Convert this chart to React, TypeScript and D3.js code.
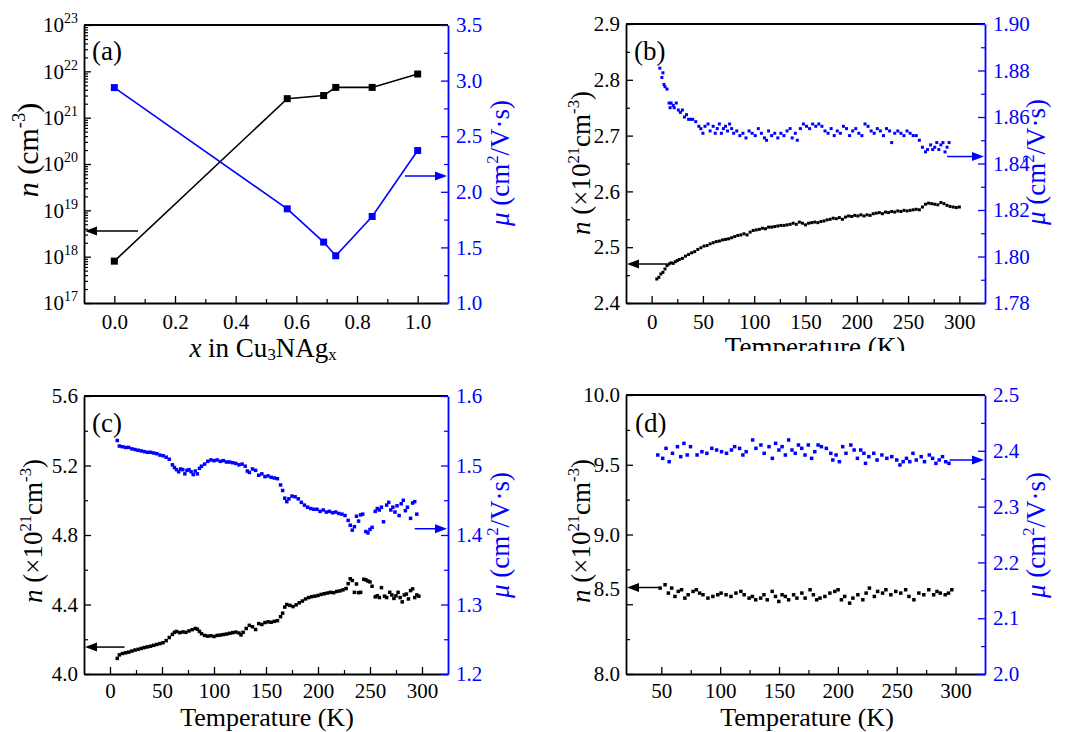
import React, { useRef, useEffect } from 'react';
import * as d3 from 'd3';

const BLUE = '#0000ff';
const FONT = '"Liberation Serif", "Times New Roman", serif';

// (a) composition dependence
const compX = [0, 0.57, 0.69, 0.73, 0.85, 1.0];
const compN = [8.0e17, 2.57e21, 3.0e21, 4.5e21, 4.5e21, 8.75e21];
const compMu = [2.937, 1.847, 1.548, 1.425, 1.778, 2.371];

// (b) temperature, carrier density (x1e21) and mobility
const bN: [number, number][] = [[5,2.443],[7,2.446],[9,2.452],[11,2.455],[13,2.461],[15,2.467],[17,2.470],[19,2.472],[21,2.471],[23,2.474],[25,2.476],[27,2.478],[30,2.480],[33,2.484],[36,2.487],[39,2.490],[42,2.492],[45,2.496],[48,2.499],[51,2.502],[54,2.503],[57,2.506],[60,2.508],[63,2.510],[66,2.511],[69,2.513],[72,2.514],[75,2.515],[78,2.517],[81,2.519],[84,2.521],[87,2.522],[90,2.524],[93,2.522],[96,2.527],[99,2.530],[102,2.531],[105,2.532],[108,2.534],[111,2.533],[114,2.536],[117,2.536],[120,2.537],[123,2.538],[126,2.539],[129,2.539],[132,2.540],[135,2.541],[138,2.543],[141,2.541],[144,2.545],[147,2.543],[150,2.540],[153,2.543],[156,2.544],[159,2.545],[162,2.544],[165,2.546],[168,2.547],[171,2.549],[174,2.550],[177,2.552],[180,2.551],[183,2.553],[186,2.550],[189,2.554],[192,2.556],[195,2.555],[198,2.557],[201,2.556],[204,2.558],[207,2.556],[210,2.558],[213,2.557],[216,2.560],[219,2.561],[222,2.562],[225,2.560],[228,2.563],[231,2.562],[234,2.564],[237,2.563],[240,2.565],[243,2.564],[246,2.566],[249,2.565],[252,2.566],[255,2.567],[258,2.568],[261,2.567],[264,2.572],[267,2.577],[270,2.579],[273,2.578],[276,2.577],[279,2.576],[282,2.580],[285,2.578],[288,2.575],[291,2.573],[294,2.572],[297,2.571],[300,2.572]];
const bMu: [number, number][] = [[8,1.881],[10,1.877],[11,1.879],[12,1.874],[13,1.873],[15,1.872],[17,1.866],[18,1.864],[19,1.866],[21,1.865],[22,1.864],[24,1.866],[26,1.863],[28,1.862],[30,1.863],[32,1.860],[34,1.861],[36,1.859],[38,1.859],[40,1.859],[43,1.858],[46,1.856],[48,1.855],[50,1.853],[52,1.856],[55,1.857],[57,1.854],[60,1.856],[62,1.853],[64,1.855],[66,1.857],[68,1.853],[70,1.855],[72,1.856],[74,1.854],[76,1.857],[78,1.855],[80,1.853],[83,1.854],[86,1.852],[89,1.853],[92,1.851],[95,1.854],[98,1.853],[101,1.852],[104,1.855],[107,1.853],[110,1.851],[112,1.850],[114,1.854],[117,1.852],[120,1.853],[123,1.851],[126,1.853],[129,1.852],[132,1.854],[135,1.855],[137,1.851],[140,1.853],[142,1.850],[145,1.855],[148,1.857],[151,1.856],[154,1.855],[157,1.857],[160,1.856],[163,1.857],[166,1.856],[169,1.854],[172,1.853],[175,1.855],[178,1.852],[181,1.854],[184,1.853],[187,1.856],[190,1.855],[193,1.852],[196,1.854],[199,1.855],[202,1.853],[205,1.852],[208,1.857],[211,1.856],[214,1.854],[217,1.853],[220,1.855],[223,1.854],[226,1.852],[229,1.855],[232,1.854],[234,1.849],[237,1.853],[240,1.854],[243,1.853],[246,1.852],[249,1.854],[252,1.853],[255,1.852],[258,1.852],[261,1.850],[264,1.847],[267,1.845],[269,1.846],[272,1.848],[274,1.846],[276,1.847],[278,1.849],[280,1.846],[282,1.848],[284,1.849],[286,1.845],[288,1.847],[290,1.849]];

// (c)
const cN: [number, number][] = [[7,4.090],[9,4.110],[12,4.118],[15,4.122],[18,4.126],[21,4.132],[24,4.138],[27,4.142],[30,4.147],[33,4.152],[36,4.156],[39,4.160],[42,4.165],[45,4.170],[48,4.175],[51,4.180],[54,4.192],[57,4.210],[60,4.228],[62,4.240],[64,4.245],[67,4.238],[70,4.242],[73,4.240],[76,4.248],[79,4.255],[82,4.262],[84,4.258],[86,4.245],[88,4.232],[91,4.222],[94,4.218],[97,4.220],[100,4.216],[103,4.222],[106,4.224],[109,4.227],[112,4.230],[115,4.234],[118,4.238],[121,4.241],[124,4.236],[126,4.225],[128,4.240],[131,4.262],[134,4.280],[137,4.272],[140,4.256],[143,4.290],[146,4.285],[149,4.296],[152,4.300],[155,4.298],[158,4.303],[161,4.307],[164,4.330],[166,4.350],[168,4.385],[170,4.400],[173,4.395],[176,4.388],[179,4.398],[182,4.410],[185,4.420],[188,4.432],[191,4.440],[194,4.445],[197,4.448],[200,4.452],[203,4.458],[206,4.462],[209,4.466],[212,4.470],[215,4.468],[218,4.475],[221,4.478],[224,4.484],[227,4.492],[229,4.520],[231,4.548],[233,4.538],[235,4.470],[237,4.518],[239,4.468],[241,4.470],[244,4.545],[246,4.542],[248,4.535],[250,4.530],[252,4.505],[255,4.444],[257,4.450],[259,4.440],[261,4.497],[264,4.448],[266,4.440],[269,4.470],[271,4.455],[273,4.435],[275,4.450],[277,4.470],[279,4.440],[281,4.415],[283,4.455],[285,4.460],[287,4.432],[289,4.480],[291,4.490],[293,4.440],[295,4.455],[297,4.448]];
const cMu: [number, number][] = [[7,1.536],[9,1.528],[12,1.527],[15,1.526],[18,1.526],[21,1.524],[24,1.523],[27,1.522],[30,1.521],[33,1.520],[36,1.519],[39,1.519],[42,1.518],[45,1.517],[48,1.515],[51,1.514],[54,1.512],[57,1.509],[60,1.501],[62,1.497],[64,1.494],[66,1.491],[68,1.495],[70,1.494],[72,1.488],[74,1.493],[76,1.494],[78,1.491],[80,1.487],[82,1.492],[84,1.488],[86,1.496],[88,1.499],[91,1.502],[94,1.506],[97,1.508],[100,1.507],[103,1.508],[106,1.506],[109,1.507],[112,1.505],[115,1.505],[118,1.504],[121,1.503],[124,1.501],[127,1.502],[130,1.499],[132,1.492],[134,1.490],[137,1.495],[140,1.493],[143,1.486],[146,1.488],[149,1.484],[152,1.485],[155,1.483],[158,1.482],[161,1.481],[164,1.472],[166,1.464],[168,1.453],[170,1.448],[172,1.452],[175,1.456],[178,1.455],[181,1.452],[184,1.447],[187,1.443],[190,1.440],[193,1.438],[196,1.437],[199,1.437],[202,1.434],[205,1.436],[208,1.433],[211,1.434],[214,1.432],[217,1.433],[220,1.431],[223,1.430],[226,1.428],[229,1.421],[231,1.414],[233,1.407],[235,1.412],[237,1.427],[239,1.420],[241,1.429],[243,1.430],[246,1.405],[248,1.403],[250,1.408],[252,1.411],[255,1.434],[257,1.438],[259,1.436],[261,1.440],[263,1.419],[266,1.443],[268,1.447],[270,1.436],[272,1.440],[274,1.433],[276,1.442],[278,1.428],[280,1.445],[282,1.450],[284,1.435],[286,1.440],[289,1.424],[291,1.446],[293,1.448],[295,1.430]];

// (d)
const dN: [number, number][] = [[49.0,8.616],[53.2,8.640],[56.0,8.580],[58.8,8.616],[61.6,8.556],[64.4,8.592],[67.2,8.604],[70.0,8.544],[72.8,8.568],[77.0,8.592],[79.8,8.604],[82.6,8.580],[85.4,8.568],[89.6,8.544],[93.8,8.556],[98.0,8.568],[100.8,8.580],[105.0,8.568],[109.2,8.556],[113.4,8.580],[117.6,8.592],[120.4,8.568],[124.6,8.544],[127.4,8.556],[130.2,8.532],[134.4,8.544],[137.2,8.568],[140.0,8.532],[144.2,8.592],[147.0,8.556],[149.8,8.520],[152.6,8.568],[155.4,8.556],[158.2,8.532],[162.4,8.568],[165.2,8.544],[169.4,8.580],[172.2,8.544],[176.4,8.604],[179.2,8.568],[182.0,8.532],[184.8,8.544],[189.0,8.556],[193.2,8.580],[197.4,8.592],[200.2,8.604],[203.0,8.532],[205.8,8.556],[210.0,8.508],[212.8,8.544],[217.0,8.568],[221.2,8.532],[224.0,8.580],[226.8,8.616],[231.0,8.556],[233.8,8.592],[238.0,8.580],[240.8,8.604],[245.0,8.568],[249.2,8.592],[253.4,8.580],[257.6,8.604],[260.4,8.556],[264.6,8.532],[268.8,8.580],[273.0,8.568],[277.2,8.604],[281.4,8.568],[284.2,8.592],[287.0,8.580],[291.2,8.568],[294.0,8.580],[296.8,8.604]];
const dMu: [number, number][] = [[47.0,2.3925],[51.2,2.3865],[54.0,2.4044],[56.7,2.3805],[59.5,2.3955],[63.7,2.4074],[66.5,2.3895],[69.2,2.4134],[72.0,2.3925],[74.8,2.4074],[80.4,2.3925],[84.5,2.3984],[88.7,2.3955],[92.9,2.4044],[97.0,2.4014],[101.2,2.3984],[105.4,2.3955],[109.6,2.4014],[112.3,2.4074],[116.5,2.4044],[119.3,2.3925],[122.1,2.3984],[127.6,2.4194],[130.4,2.4044],[134.6,2.4104],[137.4,2.3955],[141.5,2.4074],[144.3,2.3865],[147.1,2.4134],[149.9,2.4014],[152.6,2.4074],[155.4,2.3925],[158.2,2.4194],[161.0,2.4014],[163.8,2.3955],[166.5,2.4104],[169.3,2.4044],[172.1,2.3925],[174.9,2.4104],[177.7,2.3865],[180.4,2.3984],[183.2,2.4104],[186.0,2.4074],[190.2,2.4044],[194.0,2.3955],[195.7,2.3835],[198.5,2.3925],[201.3,2.3805],[204.1,2.4074],[206.9,2.3955],[211.0,2.4104],[213.8,2.4014],[216.6,2.3865],[219.4,2.4014],[222.1,2.3955],[223.5,2.3775],[226.3,2.3895],[230.5,2.3955],[233.3,2.3835],[237.4,2.3925],[241.6,2.3865],[245.8,2.3895],[250.0,2.3835],[252.7,2.3746],[255.5,2.3805],[258.3,2.3865],[261.1,2.3805],[263.8,2.3955],[266.6,2.3835],[270.8,2.3895],[273.6,2.3805],[277.7,2.3925],[280.5,2.3865],[283.3,2.3775],[286.1,2.3835],[288.9,2.3895],[291.6,2.3805],[294.4,2.3775]];

// tick values
const aXTicks = [0, 0.2, 0.4, 0.6, 0.8, 1.0];
const aXMinor = [0.1, 0.3, 0.5, 0.7, 0.9];
const aNTicks = [1e17, 1e18, 1e19, 1e20, 1e21, 1e22, 1e23];
const aMuTicks = [1.0, 1.5, 2.0, 2.5, 3.0, 3.5];
const aMuMinor = [1.25, 1.75, 2.25, 2.75, 3.25];
const tempTicks = [0, 50, 100, 150, 200, 250, 300];
const tempMinor = [25, 75, 125, 175, 225, 275];
const dTempTicks = [50, 100, 150, 200, 250, 300];
const dTempMinor = [75, 125, 175, 225, 275];
const bNTicks = [2.4, 2.5, 2.6, 2.7, 2.8, 2.9];
const bNMinor = [2.45, 2.55, 2.65, 2.75, 2.85];
const bMuTicks = [1.78, 1.80, 1.82, 1.84, 1.86, 1.88, 1.90];
const bMuMinor = [1.79, 1.81, 1.83, 1.85, 1.87, 1.89];
const cNTicks = [4.0, 4.4, 4.8, 5.2, 5.6];
const cNMinor = [4.2, 4.6, 5.0, 5.4];
const cMuTicks = [1.2, 1.3, 1.4, 1.5, 1.6];
const cMuMinor = [1.25, 1.35, 1.45, 1.55];
const dNTicks = [8.0, 8.5, 9.0, 9.5, 10.0];
const dNMinor = [8.25, 8.75, 9.25, 9.75];
const dMuTicks = [2.0, 2.1, 2.2, 2.3, 2.4, 2.5];
const dMuMinor = [2.05, 2.15, 2.25, 2.35, 2.45];

type Part = { t: string; it?: boolean; sup?: boolean; sub?: boolean };
const nTitleA: Part[] = [{ t: 'n', it: true }, { t: ' (cm' }, { t: '-3', sup: true }, { t: ')' }];
const nTitle: Part[] = [{ t: 'n', it: true }, { t: ' (×10' }, { t: '21', sup: true }, { t: 'cm' }, { t: '-3', sup: true }, { t: ')' }];
const muTitle: Part[] = [{ t: 'μ', it: true }, { t: ' (cm' }, { t: '2', sup: true }, { t: '/V·s)' }];
const compTitle: Part[] = [{ t: 'x', it: true }, { t: ' in Cu' }, { t: '3', sub: true }, { t: 'NAg' }, { t: 'x', sub: true }];
const tempTitle: Part[] = [{ t: 'Temperature (K)' }];

function rich(sel: any, parts: Part[], size: number) {
  let shift = 0;
  parts.forEach(p => {
    const target = p.sup ? -0.42 * size : p.sub ? 0.1 * size : 0;
    const ts = sel.append('tspan').attr('dy', target - shift).text(p.t);
    shift = target;
    if (p.it) ts.attr('font-style', 'italic');
    if (p.sup || p.sub) ts.attr('font-size', size * 0.62);
  });
}

const panels = [
  {
    tag: '(a)', frame: { x0: 84, x1: 448, y0: 25, y1: 303 }, xDomain: [-0.1, 1.1], xTicks: aXTicks, xMinor: aXMinor, xFmt: d3.format('.1f'),
    log: true, lDomain: [1e17, 1e23], lTicks: aNTicks, lMinor: d3.range(17, 23).flatMap(e => d3.range(2, 10).map(k => k * 10 ** e)), lFmt: null,
    rDomain: [1.0, 3.5], rTicks: aMuTicks, rMinor: aMuMinor, rFmt: d3.format('.1f'),
    left: compX.map((x, i) => [x, compN[i]]), right: compX.map((x, i) => [x, compMu[i]]), lines: true, ms: 7,
    arrowL: [3.6e18, 0.078], arrowR: [2.142, 0.958],
    lTitle: nTitleA, lTitleSize: 30, lTitlePos: [38, 150], rTitlePos: [509, 163],
    xTitle: compTitle, xTitleSize: 27, xTitlePos: [263, 357], tagPos: [92, 60], xPad: 11,
  },
  {
    tag: '(b)', frame: { x0: 626, x1: 985, y0: 24, y1: 303 }, xDomain: [-25, 325], xTicks: tempTicks, xMinor: tempMinor, xFmt: d3.format('d'),
    log: false, lDomain: [2.4, 2.9], lTicks: bNTicks, lMinor: bNMinor, lFmt: d3.format('.1f'),
    rDomain: [1.78, 1.90], rTicks: bMuTicks, rMinor: bMuMinor, rFmt: d3.format('.2f'),
    left: bN, right: bMu, lines: false, ms: 3,
    arrowL: [2.47, 15], arrowR: [1.843, 288],
    lTitle: nTitle, lTitleSize: 27, lTitlePos: [590, 163], rTitlePos: [1045, 162],
    xTitle: tempTitle, xTitleSize: 27, xTitlePos: [815, 356], tagPos: [634, 60], clipY: 351, xPad: 11,
  },
  {
    tag: '(c)', frame: { x0: 84, x1: 448, y0: 396, y1: 674 }, xDomain: [-25, 325], xTicks: tempTicks, xMinor: tempMinor, xFmt: d3.format('d'),
    log: false, lDomain: [4.0, 5.6], lTicks: cNTicks, lMinor: cNMinor, lFmt: d3.format('.1f'),
    rDomain: [1.2, 1.6], rTicks: cMuTicks, rMinor: cMuMinor, rFmt: d3.format('.1f'),
    left: cN, right: cMu, lines: false, ms: 3.5,
    arrowL: [4.155, 14], arrowR: [1.409, 293],
    lTitle: nTitle, lTitleSize: 27, lTitlePos: [42, 531], rTitlePos: [509, 535],
    xTitle: tempTitle, xTitleSize: 26, xTitlePos: [267, 726], tagPos: [92, 432], xPad: 9,
  },
  {
    tag: '(d)', frame: { x0: 626, x1: 985, y0: 395, y1: 674 }, xDomain: [20, 325], xTicks: dTempTicks, xMinor: dTempMinor, xFmt: d3.format('d'),
    log: false, lDomain: [8.0, 10.0], lTicks: dNTicks, lMinor: dNMinor, lFmt: d3.format('.1f'),
    rDomain: [2.0, 2.5], rTicks: dMuTicks, rMinor: dMuMinor, rFmt: d3.format('.1f'),
    left: dN, right: dMu, lines: false, ms: 3.5,
    arrowL: [8.62, 48], arrowR: [2.3835, 295],
    lTitle: nTitle, lTitleSize: 27, lTitlePos: [590, 531], rTitlePos: [1045, 535],
    xTitle: tempTitle, xTitleSize: 26, xTitlePos: [807, 726], tagPos: [635, 432], nudge85: true, xPad: 9,
  },
];

function drawPanel(svg: any, p: any, idx: number) {
  const { x0, x1, y0, y1 } = p.frame;
  const x = d3.scaleLinear().domain(p.xDomain).range([x0, x1]);
  const yL: any = p.log ? d3.scaleLog().domain(p.lDomain).range([y1, y0]) : d3.scaleLinear().domain(p.lDomain).range([y1, y0]);
  const yR = d3.scaleLinear().domain(p.rDomain).range([y1, y0]);
  const g = svg.append('g');

  const style = (sel: any, color: string) => {
    sel.attr('font-family', FONT).attr('font-size', 21).attr('color', color);
    sel.selectAll('text').attr('font-family', FONT).style('font-family', FONT).attr('font-size', 21);
    sel.selectAll('.domain').attr('stroke-width', 1.8);
    sel.selectAll('.tick line').attr('stroke-width', 1.3);
  };
  const minor = (axis: any, vals: number[], tr: string, color: string) => {
    g.append('g').attr('transform', tr).attr('color', color)
      .call(axis.tickValues(vals).tickSize(-4).tickFormat(() => ''))
      .call((s: any) => s.select('.domain').remove())
      .selectAll('.tick line').attr('stroke-width', 1.2);
  };

  // minor ticks
  minor(d3.axisBottom(x), p.xMinor, `translate(0,${y1})`, '#000');
  minor(d3.axisLeft(yL), p.lMinor, `translate(${x0},0)`, '#000');
  minor(d3.axisRight(yR), p.rMinor, `translate(${x1},0)`, BLUE);

  // top border
  g.append('line').attr('x1', x0).attr('x2', x1).attr('y1', y0).attr('y2', y0).attr('stroke', '#000').attr('stroke-width', 1.8);

  const xa = g.append('g').attr('transform', `translate(0,${y1})`)
    .call(d3.axisBottom(x).tickValues(p.xTicks).tickSizeInner(-7).tickSizeOuter(0).tickPadding(p.xPad).tickFormat(p.xFmt));
  style(xa, '#000');

  const la = g.append('g').attr('transform', `translate(${x0},0)`)
    .call(d3.axisLeft(yL).tickValues(p.lTicks).tickSizeInner(-7).tickSizeOuter(0).tickPadding(6).tickFormat(p.lFmt || (() => '')));
  style(la, '#000');
  if (p.log) {
    la.selectAll('.tick text').each(function (this: any, d: any) {
      const t = d3.select(this);
      t.text('');
      t.append('tspan').text('10');
      t.append('tspan').attr('dy', -9).attr('font-size', 14).text(String(Math.round(Math.log10(d))));
    });
  }
  if (p.nudge85) {
    la.selectAll('.tick').filter((d: any) => Math.abs(d - 8.5) < 1e-6).select('text').attr('y', -15);
  }

  const ra = g.append('g').attr('transform', `translate(${x1},0)`)
    .call(d3.axisRight(yR).tickValues(p.rTicks).tickSizeInner(-7).tickSizeOuter(0).tickPadding(8).tickFormat(p.rFmt));
  style(ra, BLUE);

  // data
  const drawSeries = (pts: any[], y: any, color: string) => {
    if (p.lines) {
      g.append('path').datum(pts).attr('fill', 'none').attr('stroke', color).attr('stroke-width', 1.6)
        .attr('d', d3.line().x((d: any) => x(d[0])).y((d: any) => y(d[1])));
    }
    g.append('g').selectAll('rect').data(pts).join('rect')
      .attr('x', (d: any) => x(d[0]) - p.ms / 2).attr('y', (d: any) => y(d[1]) - p.ms / 2)
      .attr('width', p.ms).attr('height', p.ms).attr('fill', color);
  };
  drawSeries(p.left, yL, '#000');
  drawSeries(p.right, yR, BLUE);

  // arrows
  const arrow = (xs: number, xe: number, yy: number, color: string) => {
    const dir = Math.sign(xe - xs);
    g.append('line').attr('x1', xs).attr('x2', xe - dir * 8).attr('y1', yy).attr('y2', yy).attr('stroke', color).attr('stroke-width', 1.5);
    g.append('path').attr('d', `M${xe},${yy}L${xe - dir * 12},${yy - 4.5}L${xe - dir * 12},${yy + 4.5}Z`).attr('fill', color);
  };
  arrow(x(p.arrowL[1]), x0 + 1, yL(p.arrowL[0]), '#000');
  arrow(x(p.arrowR[1]), x1 - 1, yR(p.arrowR[0]), BLUE);

  // titles
  const lt = g.append('text').attr('transform', `translate(${p.lTitlePos[0]},${p.lTitlePos[1]}) rotate(-90)`)
    .attr('text-anchor', 'middle').attr('font-family', FONT).attr('font-size', p.lTitleSize).attr('fill', '#000');
  rich(lt, p.lTitle, p.lTitleSize);
  const rt = g.append('text').attr('transform', `translate(${p.rTitlePos[0]},${p.rTitlePos[1]}) rotate(-90)`)
    .attr('text-anchor', 'middle').attr('font-family', FONT).attr('font-size', 27).attr('fill', BLUE);
  rich(rt, muTitle, 27);

  const xt = g.append('text').attr('x', p.xTitlePos[0]).attr('y', p.xTitlePos[1])
    .attr('text-anchor', 'middle').attr('font-family', FONT).attr('font-size', p.xTitleSize).attr('fill', '#000');
  rich(xt, p.xTitle, p.xTitleSize);
  if (p.clipY) {
    const id = `clip-${idx}`;
    svg.append('defs').append('clipPath').attr('id', id).append('rect')
      .attr('x', x0 - 100).attr('y', y1).attr('width', x1 - x0 + 200).attr('height', p.clipY - y1);
    xt.attr('clip-path', `url(#${id})`);
  }

  g.append('text').attr('x', p.tagPos[0]).attr('y', p.tagPos[1]).attr('font-family', FONT).attr('font-size', 27).attr('fill', '#000').text(p.tag);
}

export default function App() {
  const ref = useRef<SVGSVGElement>(null);
  useEffect(() => {
    if (!ref.current) return;
    const svg = d3.select(ref.current);
    svg.selectAll('*').remove();
    svg.append('rect').attr('width', 1073).attr('height', 732).attr('fill', '#fff');
    panels.forEach((p, i) => drawPanel(svg, p, i));
  }, []);
  return (
    <svg ref={ref} width={1073} height={732} viewBox="0 0 1073 732"
      style={{ position: 'absolute', left: 0, top: 0, display: 'block' }} />
  );
}
